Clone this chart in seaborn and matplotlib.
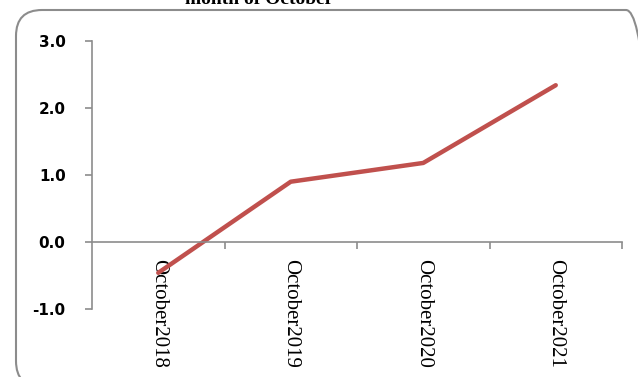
import matplotlib
matplotlib.use("Agg")
import matplotlib.pyplot as plt
from matplotlib.patches import FancyBboxPatch
from matplotlib.transforms import IdentityTransform
import seaborn as sns
import pandas as pd

# Growth values for the month of October
periods = ["October2018", "October2019", "October2020", "October2021"]
values = [-0.46, 0.90, 1.18, 2.34]
y_ticks = [-1.0, 0.0, 1.0, 2.0, 3.0]

df = pd.DataFrame({"period": periods, "value": values})

sns.set_theme(style="white")
W, H = 638, 377
fig = plt.figure(figsize=(W / 100, H / 100), dpi=100)
fig.patch.set_facecolor("white")

# rounded chart frame, in pixel units (origin at bottom-left)
frame = FancyBboxPatch((16, -10), 636, 377,
                       boxstyle="round,pad=0,rounding_size=26",
                       transform=IdentityTransform(), facecolor="none",
                       edgecolor="#8c8c8c", linewidth=1.5, zorder=0)
fig.patches.append(frame)

ax = fig.add_axes([92 / W, 1 - 309 / H, (622 - 92) / W, (309 - 41) / H])
ax.set_facecolor("none")

sns.lineplot(data=df, x="period", y="value", ax=ax, color="#C0504D",
             linewidth=3.2, sort=False)

ax.set_xlim(-0.5, len(periods) - 0.5)
ax.set_ylim(y_ticks[0], y_ticks[-1])
ax.set_xlabel("")
ax.set_ylabel("")

axis_col = "#8c8c8c"
for s in ["top", "right"]:
    ax.spines[s].set_visible(False)
ax.spines["left"].set_color(axis_col)
ax.spines["left"].set_linewidth(1.2)
ax.spines["bottom"].set_color(axis_col)
ax.spines["bottom"].set_linewidth(1.2)
ax.spines["bottom"].set_position(("data", 0))

ax.set_yticks(y_ticks)
ax.set_yticklabels([f"{v:.1f}" for v in y_ticks], fontfamily="DejaVu Sans",
                   fontweight="bold", fontsize=11, color="black")
ax.tick_params(axis="y", which="major", direction="out", length=5,
               width=1.2, color=axis_col, pad=14, left=True)

ax.set_xticks(range(len(periods)))
ax.set_xticklabels(periods, rotation=-90, fontfamily="Liberation Serif",
                   fontsize=15, color="black", va="top", ha="center")
ax.set_xticks([i + 0.5 for i in range(len(periods))], minor=True)
ax.tick_params(axis="x", which="major", length=0, pad=12, bottom=True)
ax.tick_params(axis="x", which="minor", direction="out", length=5,
               width=1.2, color=axis_col, bottom=True)

fig.text(259 / W, 1 - 4 / H, "month of October", ha="center",
         va="baseline", fontfamily="Liberation Serif", fontweight="bold",
         fontsize=14, color="black")

fig.savefig("out.png", dpi=100)
